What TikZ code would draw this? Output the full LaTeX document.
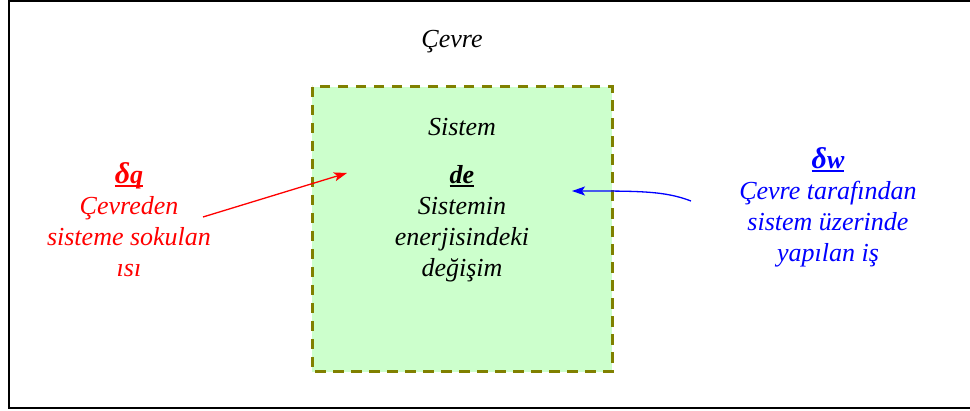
\documentclass[tikz,border=0pt]{standalone}
\usepackage{fontspec}
\setmainfont{Liberation Serif}
\usetikzlibrary{arrows.meta}
\definecolor{sysfill}{HTML}{CCFFCC}
\definecolor{sysedge}{HTML}{808000}
\definecolor{heatred}{HTML}{FF0000}
\definecolor{workblue}{HTML}{0000FF}
% thick underline for the headline symbols
\newcommand\thickul[1]{\setbox0\hbox{#1}\rlap{\rule[-3.5pt]{\wd0}{2pt}}\box0}
\newcommand\bigdelta{{\fontsize{30}{31}\selectfont δ}}
\tikzset{
  lbl/.style={align=center, inner sep=0pt, font=\fontsize{26}{31}\selectfont\itshape},
  flow/.style={line width=1.3pt, -{Stealth[length=13pt,width=9pt,inset=3pt]}}
}
\begin{document}
\begin{tikzpicture}[x=1pt,y=-1pt]
\useasboundingbox (0,0) rectangle (970,411);
\clip (0,0) rectangle (970,411);
% outer frame (surroundings)
\draw[line width=2pt] (9,1) rectangle (985,408);
% the system boundary
\draw[fill=sysfill, draw=sysedge, line width=3pt, dash pattern=on 10.5pt off 7.5pt]
  (312,87) rectangle (612,372);
\node[lbl] (cevre) at (452,42) {Çevre};
\node[lbl] (sistem) at (462,127) {Sistem};
\node[lbl] (de) at (462,224) {\textbf{\thickul{de}}\\Sistemin\\enerjisindeki\\değişim};
\node[lbl, text=heatred] (heat) at (129,220) {\textbf{\thickul{\bigdelta q}}\\Çevreden\\sisteme sokulan\\ısı};
\node[lbl, text=workblue] (work) at (828,207) {\textbf{\thickul{\bigdelta w}}\\Çevre tarafından\\sistem üzerinde\\yapılan iş};
% heat and work arrows
\coordinate (qtail) at (203,217);
\coordinate (qhead) at (347,173);
\coordinate (wtail) at (691,201);
\coordinate (whead) at (572,191);
\draw[flow, heatred] (qtail) -- (qhead);
\draw[flow, workblue] (wtail) .. controls (665,191) and (640,191) .. (whead);
\end{tikzpicture}
\end{document}
